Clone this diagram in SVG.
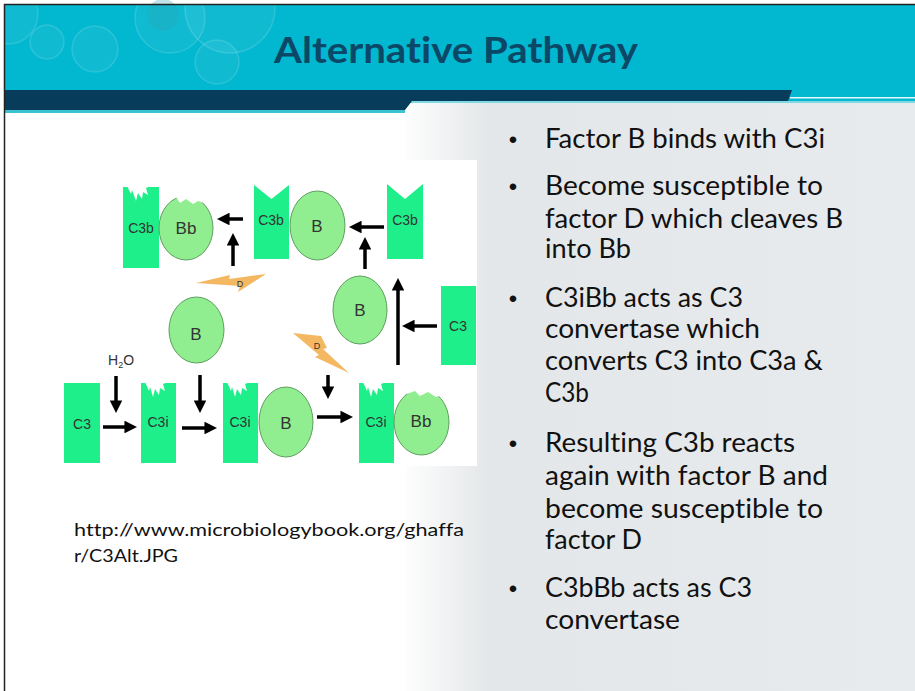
<svg xmlns="http://www.w3.org/2000/svg" width="915" height="691" viewBox="0 0 915 691">
  <defs>
    <linearGradient id="bodyShade" gradientUnits="userSpaceOnUse" x1="400" y1="0" x2="915" y2="0">
      <stop offset="0" stop-color="#ffffff"/>
      <stop offset="0.17" stop-color="#e4e7e9"/>
      <stop offset="1" stop-color="#e7ebed"/>
    </linearGradient>
    <marker id="head" viewBox="0 0 10 10" refX="4" refY="5" markerWidth="3.6" markerHeight="3.6" orient="auto">
      <path d="M0,0 L10,5 L0,10 Z" fill="#000"/>
    </marker>
    <style>
      text { font-variant-ligatures: none; }
      .slot { fill: #1eef8a; }
      .blob { fill: #90ee90; stroke: #5e9e5e; stroke-width: 1; }
      .cut { fill: #ffffff; }
      .bolt { fill: #f5b862; }
      .arrow { stroke: #000; stroke-width: 3.5; fill: none; marker-end: url(#head); }
      .lbl { font-family: "Liberation Sans", Arial, sans-serif; font-size: 14px; fill: #333; text-anchor: middle; }
      .big { font-size: 17px; }
      .tiny { font-size: 9px; }
      .bubble { fill: #ffffff; fill-opacity: 0.06; stroke: #ffffff; stroke-opacity: 0.14; stroke-width: 1.5; }
      .body { font-family: Lato, "Open Sans", sans-serif; font-size: 26px; fill: #111; }
      .dot { font-family: "Liberation Sans", Arial, sans-serif; font-size: 24px; fill: #111; text-anchor: middle; }
      .cite { font-family: Lato, "Open Sans", sans-serif; font-size: 18px; fill: #111; }
    </style>
  </defs>

  <!-- page background -->
  <rect x="0" y="0" width="915" height="691" fill="#ffffff"/>
  <rect x="405" y="100" width="510" height="591" fill="url(#bodyShade)"/>

  <!-- header -->
  <g id="header">
    <rect x="5" y="5" width="910" height="98" fill="#02b7d0"/>
    <circle class="bubble" cx="8" cy="14" r="30"/>
    <circle class="bubble" cx="47" cy="42" r="17"/>
    <circle class="bubble" cx="95" cy="49" r="23"/>
    <circle class="bubble" cx="170" cy="18" r="35"/>
    <circle cx="163" cy="15" r="16" fill="#2fa3b3" fill-opacity="0.3"/>
    <circle class="bubble" cx="217" cy="62" r="22"/>
    <circle class="bubble" cx="230" cy="8" r="45"/>
    <polygon points="5,90 792,90 788,101 412,101 405,110 5,110" fill="#073d5a"/>
    <rect x="5" y="110" width="400" height="3" fill="#3cc3cf"/>
    <polygon points="412,101 915,101 915,103 411,103" fill="#7fd9e2"/>
    <rect x="790" y="97" width="125" height="1.5" fill="#e8f8fa"/>
    <text x="274" y="63" textLength="364" lengthAdjust="spacingAndGlyphs" font-family="Lato, 'Open Sans', sans-serif" font-weight="bold" font-size="36" fill="#0b4867">Alternative Pathway</text>
  </g>

  <!-- slide frame -->
  <path d="M4.5,691 L4.5,4.5 L915,4.5" fill="none" stroke="#222" stroke-width="1.5"/>

  <!-- pathway figure -->
  <rect x="62" y="160" width="415" height="306" fill="#ffffff"/>

  <g id="c3b-bound">
    <rect class="slot" x="123" y="187" width="36" height="81"/>
    <polygon class="cut" points="127,186 131,194 132,190 136,201 138,193 142,199 143,192 148,195 146,188 151,186"/>
    <text class="lbl" x="141" y="233">C3b</text>
  </g>
  <g id="bb-top">
    <ellipse class="blob" cx="186" cy="228" rx="27" ry="32"/>
    <polygon class="cut" points="168,190 170,199 176,197 180,203 186,199 193,204 198,201 207,204 210,190"/>
    <text class="lbl big" x="186" y="234">Bb</text>
  </g>
  <g id="c3b-mid">
    <polygon class="slot" points="254,185 271.5,199 289,185 289,259 254,259"/>
    <text class="lbl" x="271" y="225">C3b</text>
  </g>
  <g id="b-top">
    <ellipse class="blob" cx="317.5" cy="225.5" rx="27.5" ry="34.5"/>
    <text class="lbl big" x="317" y="232">B</text>
  </g>
  <g id="c3b-right">
    <polygon class="slot" points="387,184 405,199 423,184 423,259 387,259"/>
    <text class="lbl" x="405" y="225">C3b</text>
  </g>
  <g id="b-right">
    <ellipse class="blob" cx="360" cy="310" rx="27" ry="34"/>
    <text class="lbl big" x="360" y="316">B</text>
  </g>
  <g id="c3-right">
    <rect class="slot" x="441" y="286" width="35" height="79"/>
    <text class="lbl" x="458" y="331">C3</text>
  </g>
  <g id="b-left">
    <ellipse class="blob" cx="196.5" cy="330" rx="27.5" ry="33"/>
    <text class="lbl big" x="196" y="340">B</text>
  </g>
  <g id="water">
    <text class="lbl" x="108" y="365" style="text-anchor:start">H<tspan font-size="9" dy="3">2</tspan><tspan dy="-3">O</tspan></text>
  </g>
  <g id="c3-left">
    <rect class="slot" x="64" y="383" width="36" height="80"/>
    <text class="lbl" x="82" y="429">C3</text>
  </g>
  <g id="c3i-1">
    <rect class="slot" x="141" y="383" width="35" height="80"/>
    <polygon class="cut" points="145,382 149,391 150,387 153,397 155,389 159,395 160,388 165,391 163,384 168,382"/>
    <text class="lbl" x="158" y="427">C3i</text>
  </g>
  <g id="c3i-2">
    <rect class="slot" x="223" y="383" width="35" height="80"/>
    <polygon class="cut" points="227,382 231,391 232,387 235,397 237,389 241,395 242,388 247,391 245,384 250,382"/>
    <text class="lbl" x="240" y="427">C3i</text>
  </g>
  <g id="b-bound">
    <ellipse class="blob" cx="286" cy="422" rx="27" ry="35"/>
    <text class="lbl big" x="286" y="429">B</text>
  </g>
  <g id="c3i-3">
    <rect class="slot" x="359" y="383" width="35" height="80"/>
    <polygon class="cut" points="363,382 367,391 368,387 371,397 373,389 377,395 378,388 383,391 381,384 386,382"/>
    <text class="lbl" x="376" y="427">C3i</text>
  </g>
  <g id="bb-bound">
    <ellipse class="blob" cx="421.5" cy="422" rx="27.5" ry="33"/>
    <polygon class="cut" points="405,385 407,394 415,391 420,396 428,392 436,397 443,395 450,385"/>
    <text class="lbl big" x="421" y="427">Bb</text>
  </g>
  <g id="factor-d-top">
    <polygon class="bolt" points="196,283 230,275 229,279 266,274 238,292 240,286"/>
    <text class="lbl tiny" x="240" y="287">D</text>
  </g>
  <g id="factor-d-mid">
    <polygon class="bolt" points="293,333 321,336 327,348 323,349 349,373 315,357 319,355"/>
    <text class="lbl tiny" x="317" y="349">D</text>
  </g>

  <g id="connectors">
    <line class="arrow" x1="243" y1="219" x2="224.5" y2="219"/>
    <line class="arrow" x1="233" y1="266" x2="233" y2="240.5"/>
    <line class="arrow" x1="384" y1="227" x2="356.5" y2="227"/>
    <line class="arrow" x1="365" y1="269" x2="365" y2="244.5"/>
    <line class="arrow" x1="398" y1="365" x2="398" y2="285.5"/>
    <line class="arrow" x1="437" y1="326" x2="409.5" y2="326"/>
    <line class="arrow" x1="116" y1="376" x2="116" y2="405.5"/>
    <line class="arrow" x1="103" y1="427" x2="129.5" y2="427"/>
    <line class="arrow" x1="182" y1="428" x2="209.5" y2="428"/>
    <line class="arrow" x1="200" y1="375" x2="200" y2="405.5"/>
    <line class="arrow" x1="328" y1="375" x2="328" y2="391.5"/>
    <line class="arrow" x1="317" y1="417" x2="345.5" y2="417"/>
  </g>

  <!-- source note -->
  <text class="cite" x="74" y="536" textLength="390" lengthAdjust="spacingAndGlyphs">http://www.microbiologybook.org/ghaffa</text>
  <text class="cite" x="74" y="562" textLength="104" lengthAdjust="spacingAndGlyphs">r/C3Alt.JPG</text>

  <!-- bullet list -->
  <g id="bullets">
    <text class="dot" x="513" y="148">•</text>
    <text class="body" x="545" y="148" textLength="280" lengthAdjust="spacingAndGlyphs">Factor B binds with C3i</text>
    <text class="dot" x="513" y="195">•</text>
    <text class="body" x="545" y="195" textLength="278" lengthAdjust="spacingAndGlyphs">Become susceptible to</text>
    <text class="body" x="545" y="228" textLength="298" lengthAdjust="spacingAndGlyphs">factor D which cleaves B</text>
    <text class="body" x="545" y="258" textLength="86" lengthAdjust="spacingAndGlyphs">into Bb</text>
    <text class="dot" x="513" y="307">•</text>
    <text class="body" x="545" y="307" textLength="198" lengthAdjust="spacingAndGlyphs">C3iBb acts as C3</text>
    <text class="body" x="545" y="338" textLength="215" lengthAdjust="spacingAndGlyphs">convertase which</text>
    <text class="body" x="545" y="370" textLength="278" lengthAdjust="spacingAndGlyphs">converts C3 into C3a &amp;</text>
    <text class="body" x="545" y="402" textLength="44" lengthAdjust="spacingAndGlyphs">C3b</text>
    <text class="dot" x="513" y="452">•</text>
    <text class="body" x="545" y="452" textLength="250" lengthAdjust="spacingAndGlyphs">Resulting C3b reacts</text>
    <text class="body" x="545" y="485" textLength="283" lengthAdjust="spacingAndGlyphs">again with factor B and</text>
    <text class="body" x="545" y="518" textLength="278" lengthAdjust="spacingAndGlyphs">become susceptible to</text>
    <text class="body" x="545" y="549" textLength="97" lengthAdjust="spacingAndGlyphs">factor D</text>
    <text class="dot" x="513" y="597">•</text>
    <text class="body" x="545" y="597" textLength="207" lengthAdjust="spacingAndGlyphs">C3bBb acts as C3</text>
    <text class="body" x="545" y="629" textLength="135" lengthAdjust="spacingAndGlyphs">convertase</text>
  </g>
</svg>
